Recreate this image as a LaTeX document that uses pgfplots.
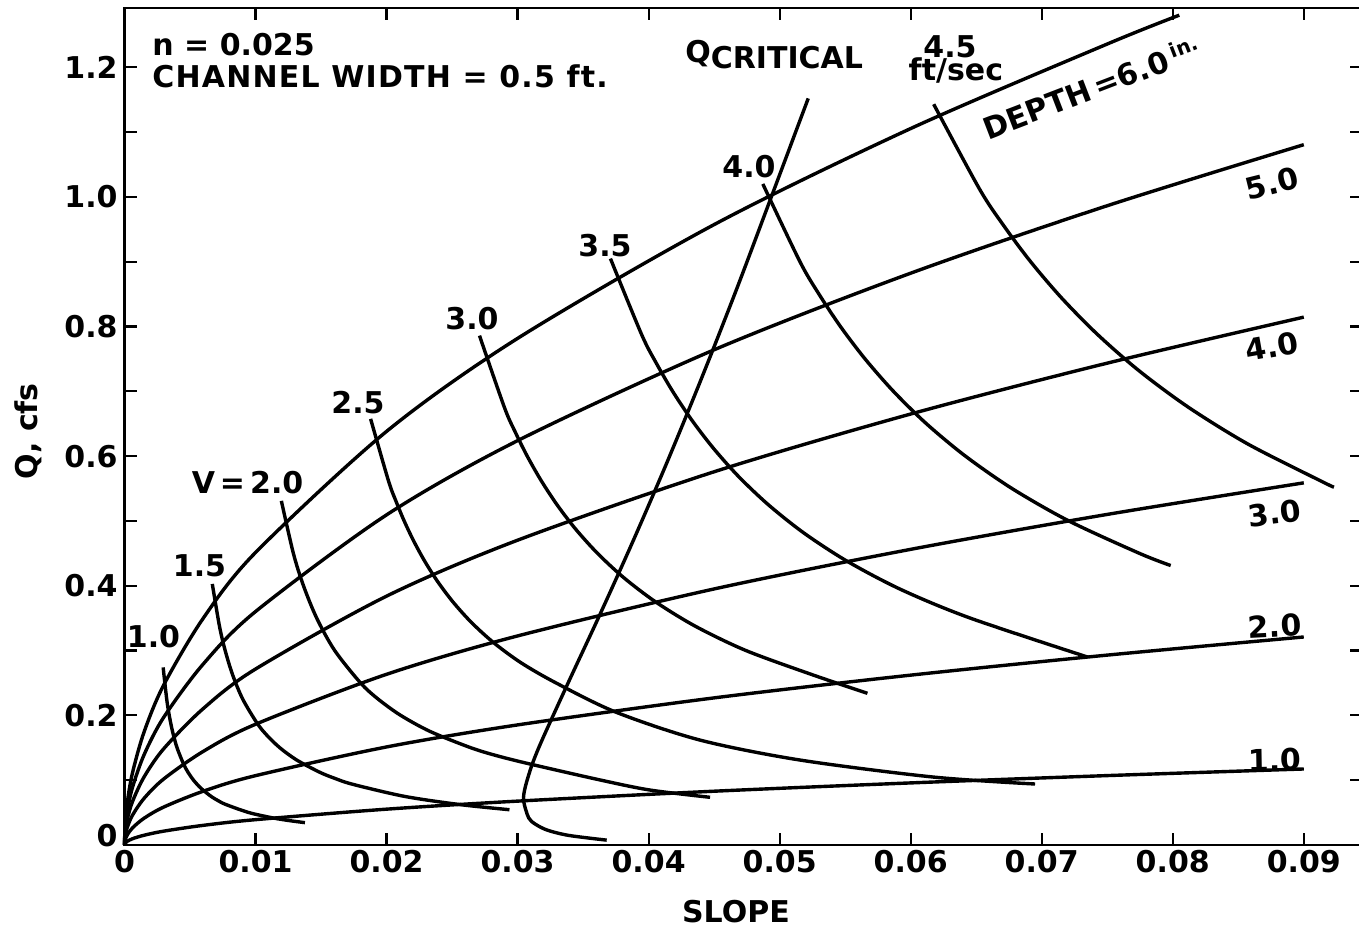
\documentclass[border=0pt]{standalone}
\usepackage{fontspec}
\setmainfont{DejaVu Sans}
\usepackage{pgfplots}
\pgfplotsset{compat=1.18}
\newcommand\lf{\bfseries\fontsize{15}{18}\selectfont}
\begin{document}
\begin{tikzpicture}
\begin{axis}[
  at={(0,0)}, anchor=south west,
  scale only axis, width=618.75pt, height=418.5pt,
  xmin=0, xmax=0.094444, ymin=0, ymax=1.2915,
  axis line style={line width=1.4pt},
  tick align=inside,
  scaled x ticks=false, scaled y ticks=false,
  xtick={0,0.01,0.02,0.03,0.04,0.05,0.06,0.07,0.08,0.09},
  xticklabels={0,0.01,0.02,0.03,0.04,0.05,0.06,0.07,0.08,0.09},
  ytick={0,0.2,0.4,0.6,0.8,1.0,1.2},
  yticklabels={\raisebox{4.5pt}[\height][\depth]{0},0.2,0.4,0.6,0.8,1.0,1.2},
  minor ytick={0.1,0.3,0.5,0.7,0.9,1.1},
  major tick length=6pt, minor tick length=6pt,
  every tick/.append style={line width=1.1pt, black},
  tick label style={font=\lf},
  xticklabel style={inner sep=0pt, yshift=-2.5pt},
  yticklabel style={inner sep=0pt, xshift=-3.25pt},
  xlabel={SLOPE}, ylabel={Q, cfs},
  every axis x label/.style={at={(rel axis cs:0.4941,0)}, yshift=-33.25pt, anchor=center, font=\lf},
  every axis y label/.style={at={(rel axis cs:0,0.4943)}, xshift=-48.25pt, rotate=90, anchor=center, font=\lf},
  clip=false,
  every axis plot/.append style={line width=1.7pt, black, no markers},
]
% depth curves (6.0 envelope, 5, 4, 3, 2, 1 in.)
\addplot[smooth] coordinates {(0,0) (0.00005,0.0319) (0.0002,0.0638) (0.0006,0.1105) (0.0015,0.1748) (0.003,0.2472) (0.006,0.3496) (0.01,0.4513) (0.02,0.6382) (0.03,0.7817) (0.045,0.9573) (0.06,1.1055) (0.075,1.2359) (0.0805,1.2804)};
\addplot[smooth] coordinates {(0,0) (0.00005,0.0255) (0.0002,0.0509) (0.0006,0.0882) (0.0015,0.1395) (0.003,0.1973) (0.006,0.2790) (0.01,0.3602) (0.02,0.5094) (0.03,0.6239) (0.045,0.7641) (0.06,0.8823) (0.075,0.9864) (0.09,1.0806)};
\addplot[smooth] coordinates {(0,0) (0.00005,0.0192) (0.0002,0.0384) (0.0006,0.0665) (0.0015,0.1052) (0.003,0.1487) (0.006,0.2103) (0.01,0.2715) (0.02,0.3840) (0.03,0.4703) (0.045,0.5759) (0.06,0.6650) (0.075,0.7435) (0.09,0.8145)};
\addplot[smooth] coordinates {(0,0) (0.00005,0.0132) (0.0002,0.0263) (0.0006,0.0456) (0.0015,0.0721) (0.003,0.1020) (0.006,0.1443) (0.01,0.1863) (0.02,0.2634) (0.03,0.3226) (0.045,0.3951) (0.06,0.4562) (0.075,0.5101) (0.09,0.5588)};
\addplot[smooth] coordinates {(0,0) (0.00005,0.0076) (0.0002,0.0151) (0.0006,0.0262) (0.0015,0.0414) (0.003,0.0586) (0.006,0.0829) (0.01,0.1070) (0.02,0.1513) (0.03,0.1853) (0.045,0.2270) (0.06,0.2621) (0.075,0.2930) (0.09,0.3210)};
\addplot[smooth] coordinates {(0,0) (0.00005,0.0028) (0.0002,0.0055) (0.0006,0.0096) (0.0015,0.0151) (0.003,0.0214) (0.006,0.0303) (0.01,0.0391) (0.02,0.0553) (0.03,0.0677) (0.045,0.0830) (0.06,0.0958) (0.075,0.1071) (0.09,0.1173)};
% velocity curves V = 1.0 ... 4.5 ft/sec
\addplot[smooth] coordinates {(0.00295,0.274) (0.003222,0.225) (0.003415,0.2) (0.003668,0.175) (0.004011,0.15) (0.004505,0.125) (0.004841,0.1125) (0.00527,0.1) (0.005836,0.0875) (0.00661,0.075) (0.007116,0.06875) (0.007735,0.0625) (0.0095,0.05) (0.011351,0.04167) (0.012629,0.0375) (0.01377,0.0345)};
\addplot[smooth] coordinates {(0.006701,0.4028) (0.007249,0.3375) (0.007684,0.3) (0.008252,0.2625) (0.009025,0.225) (0.010135,0.1875) (0.010892,0.16875) (0.011858,0.15) (0.013131,0.13125) (0.014873,0.1125) (0.01601,0.103125) (0.017403,0.09375) (0.021375,0.075) (0.02554,0.0625) (0.02938,0.05445)};
\addplot[smooth] coordinates {(0.011972,0.531) (0.012888,0.45) (0.01366,0.4) (0.014671,0.35) (0.016045,0.3) (0.018018,0.25) (0.019364,0.225) (0.021081,0.2) (0.023344,0.175) (0.02644,0.15) (0.028463,0.1375) (0.030938,0.125) (0.03633,0.1002) (0.0401,0.0848) (0.04469,0.0736)};
\addplot[smooth] coordinates {(0.018783,0.6575) (0.020137,0.5625) (0.020703,0.53125) (0.021344,0.5) (0.022078,0.46875) (0.022923,0.4375) (0.023907,0.40625) (0.02507,0.375) (0.026459,0.34375) (0.028153,0.3125) (0.030257,0.28125) (0.03294,0.25) (0.0375,0.205) (0.04392,0.1619) (0.05155,0.1311) (0.0617,0.1049) (0.06949,0.0941)};
\addplot[smooth] coordinates {(0.027092,0.786) (0.028997,0.675) (0.029813,0.6375) (0.030735,0.6) (0.031792,0.5625) (0.033009,0.525) (0.034426,0.4875) (0.036101,0.45) (0.038102,0.4125) (0.040541,0.375) (0.04357,0.3375) (0.047433,0.3) (0.052524,0.2625) (0.0567,0.234)};
\addplot[smooth] coordinates {(0.037087,0.9048) (0.039468,0.7875) (0.040578,0.74375) (0.041834,0.7) (0.043272,0.65625) (0.04493,0.6125) (0.046857,0.56875) (0.049137,0.525) (0.05186,0.48125) (0.05518,0.4375) (0.059303,0.39375) (0.064561,0.35) (0.0735,0.29)};
\addplot[smooth] coordinates {(0.048715,1.02) (0.05155,0.9) (0.053,0.85) (0.05464,0.8) (0.056518,0.75) (0.058683,0.7) (0.061202,0.65) (0.064179,0.6) (0.067736,0.55) (0.072072,0.5) (0.077458,0.45) (0.079843,0.4312)};
\addplot[smooth] coordinates {(0.061756,1.143) (0.065243,1.0125) (0.067078,0.95625) (0.069154,0.9) (0.071531,0.84375) (0.074271,0.7875) (0.077458,0.73125) (0.081227,0.675) (0.085728,0.61875) (0.091216,0.5625) (0.0923,0.552)};
% critical flow curve
\addplot[smooth] coordinates {(0.05218,1.152) (0.04942,1.003) (0.04669,0.8564) (0.04399,0.7177) (0.04134,0.5874) (0.03875,0.4662) (0.03626,0.3546) (0.03394,0.2538) (0.03193,0.1648) (0.03113,0.1254) (0.03059,0.0897) (0.03046,0.06825) (0.03085,0.0417) (0.03139,0.03172) (0.0323,0.0227) (0.03392,0.01474) (0.03680,0.0075)};
% annotations
\node[anchor=base west, font=\lf, inner sep=0pt] at (axis cs:0.0021,1.2182) {n = 0.025};
\node[anchor=base west, font=\lf, inner sep=0pt] at (axis cs:0.0021,1.1689) {\addfontfeatures{LetterSpace=4}CHANNEL WIDTH = 0.5 ft.};
\node[anchor=base west, font=\lf, inner sep=0pt] at (axis cs:0.04277,1.2073) {Q\raisebox{-3pt}{CRITICAL}};
\node[anchor=base, font=\lf, inner sep=0pt] at (axis cs:0.0630,1.2151) {4.5};
\node[anchor=base, font=\lf, inner sep=0pt] at (axis cs:0.06345,1.1796) {ft/sec};
\node[anchor=base west, font=\lf, rotate=21, inner sep=0pt] at (axis cs:0.0659,1.0875) {DEPTH\,=6.0\,\raisebox{5pt}{\fontsize{10}{10}\selectfont in.}};
\node[font=\lf] at (axis cs:0.00221,0.3223) {1.0};
\node[font=\lf] at (axis cs:0.00572,0.4302) {1.5};
\node[font=\lf] at (axis cs:0.00939,0.559) {V\,=\,2.0};
\node[font=\lf] at (axis cs:0.01782,0.6831) {2.5};
\node[font=\lf] at (axis cs:0.02652,0.8126) {3.0};
\node[font=\lf] at (axis cs:0.03667,0.9252) {3.5};
\node[font=\lf] at (axis cs:0.04766,1.047) {4.0};
\node[font=\lf, rotate=14] at (axis cs:0.08757,1.0208) {5.0};
\node[font=\lf, rotate=10] at (axis cs:0.08757,0.7695) {4.0};
\node[font=\lf, rotate=7] at (axis cs:0.0878,0.512) {3.0};
\node[font=\lf, rotate=3] at (axis cs:0.0878,0.3377) {2.0};
\node[font=\lf, rotate=1] at (axis cs:0.0878,0.1311) {1.0};
\end{axis}
\pgfresetboundingbox
\path[use as bounding box] (-62.25pt,-43pt) rectangle (617.25pt,422.5pt);
\end{tikzpicture}
\end{document}
